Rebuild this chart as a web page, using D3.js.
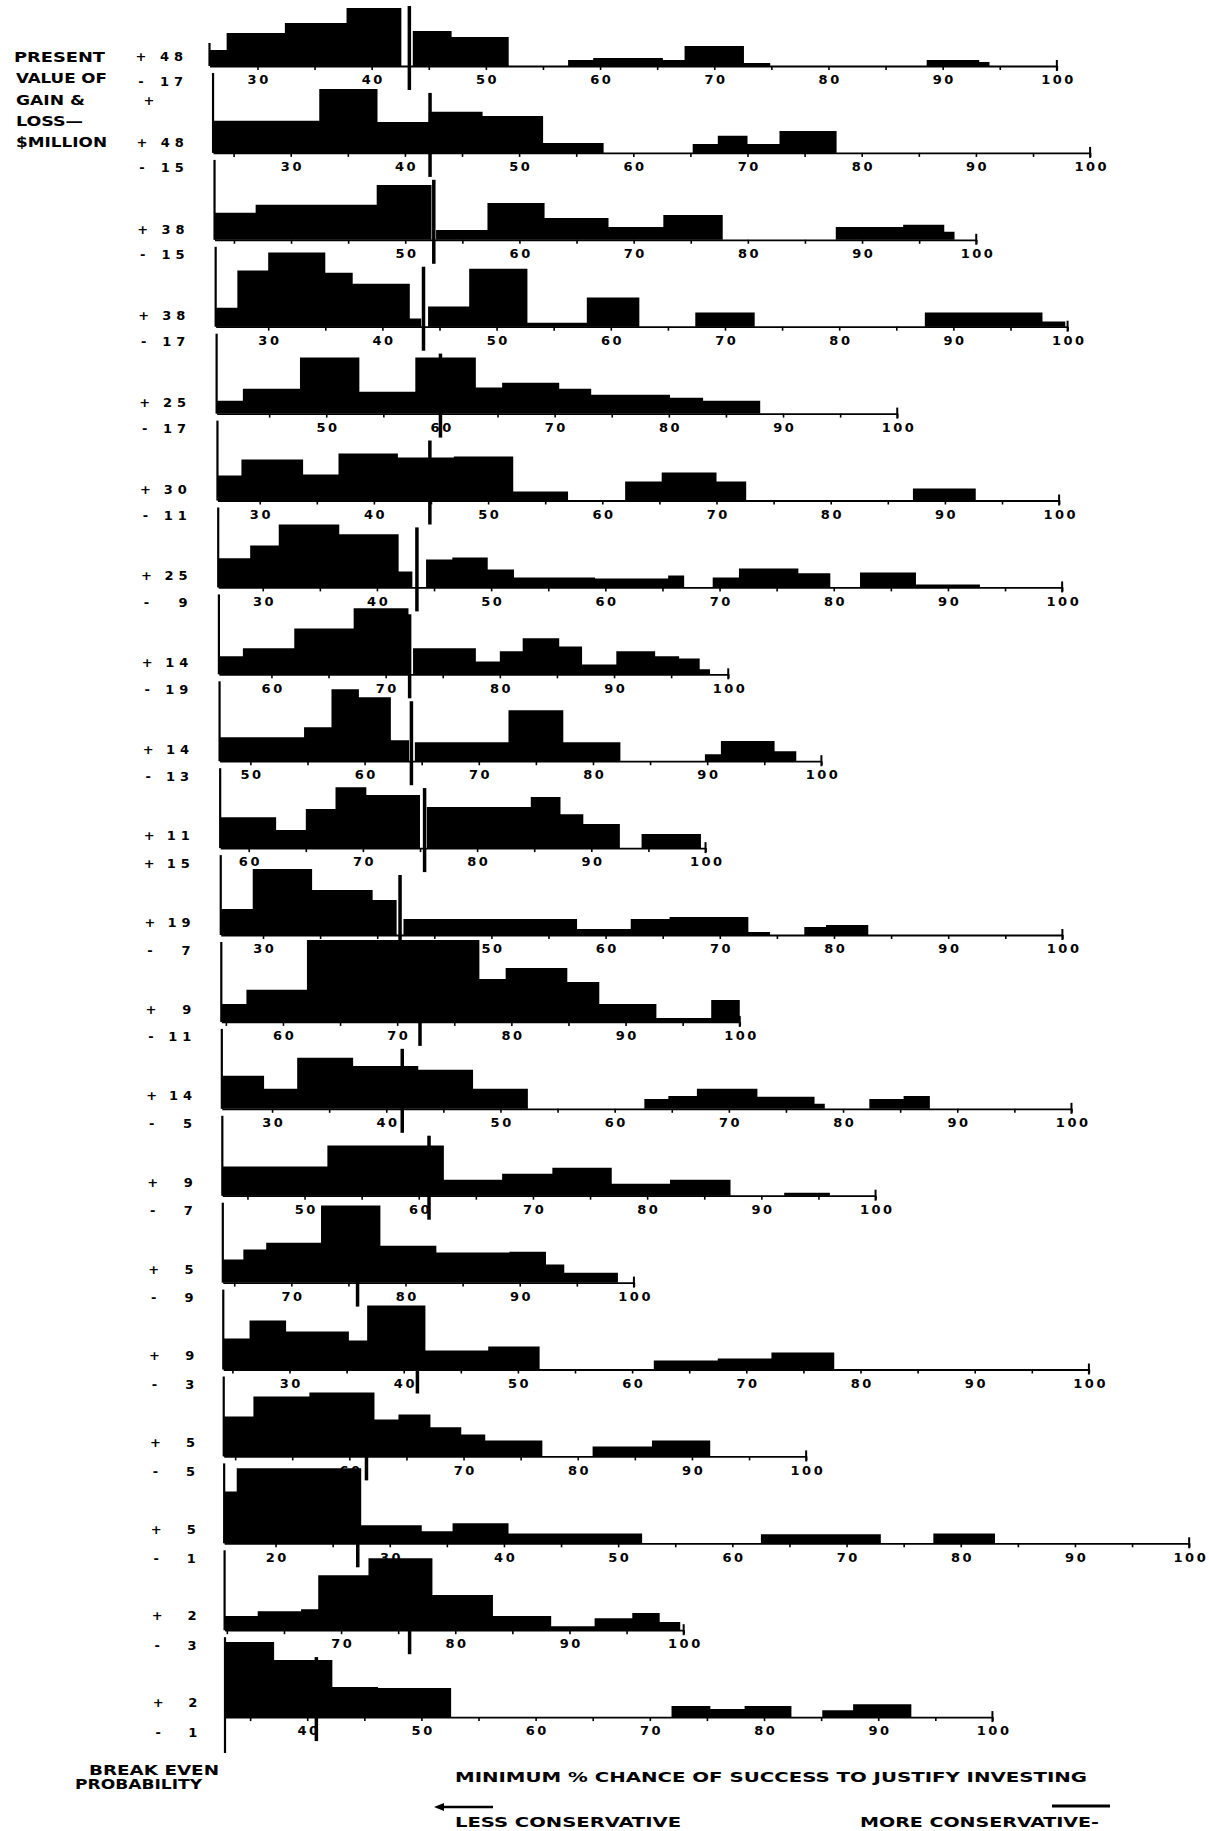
<!DOCTYPE html>
<html>
<head>
<meta charset="utf-8">
<script src="https://cdn.jsdelivr.net/npm/d3@7"></script>
<style>
  html, body { margin: 0; padding: 0; background: #fff; }
  svg { display: block; }
  .num { font-family: "DejaVu Sans", sans-serif; font-weight: bold; font-size: 13px; fill: #000; }
  .word { font-family: "Liberation Sans Narrow", "DejaVu Sans Condensed", sans-serif; font-weight: bold; font-size: 14px; fill: #000; }
</style>
</head>
<body>
<svg id="chart" width="1209" height="1831"></svg>
<script>
// Present value of gain (top label) and loss (bottom label), $ million, per project strip
const gains  = [48, 48, 38, 38, 25, 30, 25, 14, 14, 11, 19, 9, 14, 9, 5, 9, 5, 5, 2, 2];
const losses = [-17, -15, -15, -17, -17, -11, -9, -19, -13, 15, -7, -11, -5, -7, -9, -3, -5, -1, -3, -1];

// Break-even probability (%) where each strip's axis begins
const axisStarts = [25.8, 23.2, 33.3, 25.4, 40.4, 26.3, 26.1, 55.4, 47.3, 57.5,
                    26.3, 54.6, 25.6, 42.8, 64.0, 24.2, 49.0, 15.5, 59.8, 32.8];

// First labelled tick on each strip (labels then run every 10 up to 100)
const firstTickLabel = [30, 30, 50, 30, 50, 30, 30, 60, 50, 60,
                        30, 60, 30, 50, 70, 30, 60, 20, 70, 40];

// Tall marker line on each strip (% chance)
const markers = [43.3, 42.2, 52.5, 43.6, 60.0, 44.9, 43.5, 72.1, 64.1, 75.4,
                 42.0, 72.0, 41.4, 60.9, 75.8, 41.2, 61.5, 27.2, 76.0, 40.8];

// Response histograms: [from %, to %, number of responses]
const histograms = [
  [[25.8,27.3,5.3],[27.3,32.4,11],[32.4,37.8,14.3],[37.8,42.6,19.3],[43.6,47.0,11.7],[47.0,52.0,9.7],
   [57.2,59.4,2],[59.4,65.5,2.7],[65.5,67.4,2],[67.4,72.6,6.7],[72.6,74.9,1],[88.6,93.2,2],[93.2,94.1,1.3]],
  [[23.2,32.5,10.7],[32.5,37.6,21.3],[37.6,42.1,10.3],[42.1,46.8,13.7],[46.8,52.1,12.3],[52.1,57.4,3.3],
   [65.2,67.4,3],[67.4,70.0,5.7],[70.0,72.8,3],[72.8,77.8,7.3]],
  [[33.3,36.9,9],[36.9,47.5,11.7],[47.5,52.3,18.3],[52.7,57.2,3.3],[57.2,62.2,12.3],[62.2,67.8,7.3],
   [67.8,72.6,4.3],[72.6,77.8,8.3],[87.7,93.6,4.3],[93.6,97.2,5],[97.2,98.1,2.7]],
  [[25.4,27.3,6.3],[27.3,30.0,18.7],[30.0,35.0,24.7],[35.0,37.4,18],[37.4,42.4,14.3],[42.4,43.4,2.7],
   [44.0,47.6,6.7],[47.6,52.7,19.3],[52.7,57.9,1.3],[57.9,62.5,9.7],[67.4,72.6,4.7],[87.5,97.8,4.7],[97.8,99.8,1.7]],
  [[40.4,42.7,4.3],[42.7,47.7,8.3],[47.7,52.9,18.7],[52.9,57.8,7.3],[57.8,63.1,18.7],[63.1,65.4,8.7],
   [65.4,70.4,10.3],[70.4,73.2,8.3],[73.2,80.1,6.3],[80.1,83.0,5.3],[83.0,88.0,4.3]],
  [[26.3,28.4,8.3],[28.4,33.8,13.7],[33.8,36.9,8.7],[36.9,42.1,15.7],[42.1,47.0,14.3],[47.0,52.2,14.7],
   [52.2,57.0,3],[62.0,65.2,6.3],[65.2,70.0,9.3],[70.0,72.6,6.3],[87.2,92.7,4]],
  [[26.1,28.9,9.7],[28.9,31.4,14],[31.4,36.7,21],[36.7,41.9,17.7],[41.9,43.1,5.3],[44.3,46.6,9.3],
   [46.6,49.7,10],[49.7,52.0,6],[52.0,59.1,3.3],[59.1,65.5,3],[65.5,66.9,4],[69.4,71.7,3.3],
   [71.7,76.9,6.3],[76.9,79.7,4.7],[82.3,87.2,5],[87.2,92.8,1]],
  [[55.4,57.5,6],[57.5,62.0,8.7],[62.0,67.2,15.3],[67.2,72.0,22],[72.4,77.9,8.7],[77.9,80.0,4.3],
   [80.0,82.0,7.7],[82.0,85.2,12],[85.2,87.2,9.3],[87.2,90.2,3.3],[90.2,93.6,7.7],[93.6,95.7,6],
   [95.7,97.5,5.3],[97.5,98.4,1.7]],
  [[47.3,54.7,8],[54.7,57.1,11.3],[57.1,59.5,24],[59.5,62.3,21.3],[62.3,63.9,7],[64.4,72.6,6.3],
   [72.6,77.4,17],[77.4,82.4,6.3],[89.8,91.2,2.3],[91.2,95.9,6.7],[95.9,97.8,3.3]],
  [[57.5,62.4,10.3],[62.4,65.0,6],[65.0,67.6,13],[67.6,70.3,20.3],[70.3,75.0,17.7],[75.6,84.7,13.7],
   [84.7,87.3,17],[87.3,89.3,11.3],[89.3,92.5,8],[94.4,99.6,4.7]],
  [[26.3,29.1,8.7],[29.1,34.3,22],[34.3,39.6,15],[39.6,41.7,11.7],[42.3,57.5,5.3],[57.5,62.2,2],
   [62.2,65.6,5.3],[65.6,72.5,6],[72.5,74.4,1],[77.4,79.3,2.7],[79.3,83.0,3.3]],
  [[54.6,56.8,6],[56.8,62.1,10.7],[62.1,77.2,27.3],[77.2,79.5,14.3],[79.5,84.9,18],[84.9,87.7,13.3],
   [87.7,92.7,6],[92.7,97.5,1.3],[97.5,100,7.3]],
  [[25.6,29.3,11],[29.3,32.2,6.7],[32.2,37.1,17],[37.1,42.8,14.3],[42.8,47.6,13],[47.6,52.4,6.7],
   [62.6,64.7,3.3],[64.7,67.2,4.3],[67.2,72.5,6.7],[72.5,77.5,4],[77.5,78.4,1.7],[82.3,85.3,3.3],[85.3,87.6,4.3]],
  [[42.8,52.0,9.7],[52.0,62.2,16.7],[62.2,67.3,5.3],[67.3,71.7,7.3],[71.7,76.9,9.3],[76.9,82.0,4],
   [82.0,87.3,5.3],[92.0,96.0,1]],
  [[64.0,65.8,7.7],[65.8,67.8,11],[67.8,72.6,13.3],[72.6,77.8,25.7],[77.8,82.7,12.3],[82.7,89.1,10],
   [89.1,92.3,10.3],[92.3,93.9,6],[93.9,98.6,3.3]],
  [[24.2,26.5,10.3],[26.5,29.7,16.3],[29.7,35.2,12.7],[35.2,36.8,9.7],[36.8,41.9,21.3],[41.9,47.4,6.3],
   [47.4,51.9,7.7],[61.9,67.5,3],[67.5,72.2,3.7],[72.2,77.7,5.7]],
  [[49.0,51.6,13.3],[51.6,56.5,20],[56.5,62.2,21.3],[62.2,64.3,12.3],[64.3,67.1,14],[67.1,69.8,9.7],
   [69.8,71.9,7.3],[71.9,76.9,5.3],[81.3,86.5,3.3],[86.5,91.6,5.3]],
  [[15.5,16.6,17.3],[16.6,27.5,25],[27.5,32.8,6],[32.8,35.5,4],[35.5,40.4,6.7],[40.4,52.1,3.3],
   [62.5,73.0,3],[77.6,83.0,3.3]],
  [[59.8,62.7,4.7],[62.7,66.5,6.3],[66.5,68.0,7],[68.0,72.4,18.3],[72.4,78.0,24],[78.0,83.3,11.7],
   [83.3,88.4,4.7],[88.4,92.2,1.3],[92.2,95.5,4],[95.5,97.9,5.7],[97.9,99.7,2.7]],
  [[32.8,37.1,25],[37.1,42.2,19],[42.2,46.2,10],[46.2,52.6,9.7],[71.9,75.3,3.7],[75.3,78.3,2.7],
   [78.3,82.4,3.7],[85.1,87.8,2.3],[87.8,92.9,4.3]]
];

// Side and foot captions
const sideCaption = ["PRESENT", "VALUE OF", "GAIN &", "LOSS\u2014", "$MILLION"];
const axisTitle = "MINIMUM % CHANCE OF SUCCESS TO JUSTIFY INVESTING";
const breakEvenCaption = ["BREAK EVEN", "PROBABILITY"];
const directionCaptions = ["LESS CONSERVATIVE", "MORE CONSERVATIVE-"];

// ---------------------------------------------------------------------------
const svg = d3.select("#chart");
svg.append("rect").attr("width", 1209).attr("height", 1831).attr("fill", "#fff");

const UNIT = 11.42;          // px per percentage point, shared by all strips
const ROW0 = 66, ROW_GAP = 86.9;
const COUNT_PX = 3;          // px per response
const leftOf = i => 209.5 + 15.5 * Math.sqrt(i / 19);   // page is slightly skewed
const baseOf = i => ROW0 + i * ROW_GAP;
const signOf = v => (v < 0 ? "-" : "+");

// Outline of a histogram as one closed step polygon (no seams between bins)
function stepOutline(bins) {
  const pts = [];
  bins.forEach((b, k) => {
    const prev = bins[k - 1], next = bins[k + 1];
    if (!prev || Math.abs(prev[1] - b[0]) > 1e-6) pts.push([b[0], 0]);
    pts.push([b[0], b[2]], [b[1], b[2]]);
    if (!next || Math.abs(next[0] - b[1]) > 1e-6) pts.push([b[1], 0]);
  });
  return pts;
}

gains.forEach((gain, i) => {
  const left = leftOf(i), base = baseOf(i), start = axisStarts[i];
  const x = d3.scaleLinear().domain([start, 100]).range([left, left + (100 - start) * UNIT]);
  const y = d3.scaleLinear().domain([0, 1]).range([base, base - COUNT_PX]);
  const g = svg.append("g").attr("class", "strip");

  // histogram
  const line = d3.line().x(d => x(d[0])).y(d => y(d[1]));
  g.append("path").attr("d", line(stepOutline(histograms[i])) + "Z").attr("fill", "#000");

  // axis with minor ticks every 5 and labels every 10
  const minor = d3.range(Math.ceil(start / 5) * 5, 100.001, 5);
  const axisG = g.append("g").attr("transform", `translate(0,${base})`)
    .call(d3.axisBottom(x).tickValues(minor).tickSize(4).tickSizeOuter(0).tickFormat(""));
  axisG.select(".domain").attr("stroke", "#000").attr("stroke-width", 1.8);
  axisG.selectAll(".tick line").attr("stroke", "#000").attr("stroke-width", 1.6);

  const labelled = d3.range(firstTickLabel[i], 100.001, 10);
  const labG = g.append("g").attr("transform", `translate(0,${base})`)
    .call(d3.axisBottom(x).tickValues(labelled).tickSize(0).tickPadding(9).tickFormat(d3.format("d")));
  labG.select(".domain").remove();
  labG.attr("font-size", null).attr("font-family", null);
  labG.selectAll(".tick text").attr("class", "num").attr("letter-spacing", 2.5).attr("dx", 1.2);

  // closing tick at 100
  g.append("line").attr("x1", x(100)).attr("x2", x(100))
    .attr("y1", base - 6).attr("y2", base + 5).attr("stroke", "#000").attr("stroke-width", 2);

  // left edge line (start of axis)
  const topY = i === 0 ? base - 23 : baseOf(i - 1) + 7;
  const botY = i === gains.length - 1 ? 1753 : base;
  g.append("line").attr("x1", left).attr("x2", left).attr("y1", topY).attr("y2", botY)
    .attr("stroke", "#000").attr("stroke-width", 2.2);

  // marker line
  g.append("line").attr("x1", x(markers[i])).attr("x2", x(markers[i]))
    .attr("y1", base - 60).attr("y2", base + 24)
    .attr("stroke", "#000").attr("stroke-width", 3.5);

  // gain / loss labels
  const signX = 141 + 0.9 * i, numX = 183 + 0.75 * i;
  const rows = [[gain, base - 10 - 0.25 * i], [losses[i], base + 15]];
  rows.forEach(([v, yy]) => {
    g.append("text").attr("class", "num").attr("x", signX).attr("y", yy)
      .attr("text-anchor", "middle").attr("dominant-baseline", "central").text(signOf(v));
    g.append("text").attr("class", "num").attr("x", numX + 5).attr("y", yy)
      .attr("text-anchor", "end").attr("dominant-baseline", "central")
      .attr("letter-spacing", 5).text(Math.abs(v));
  });
});

// stray sign beside the top strips
svg.append("text").attr("class", "num").attr("x", 149).attr("y", 100)
  .attr("text-anchor", "middle").attr("dominant-baseline", "central").text("+");

// side caption
const sideWidths = [91, 91, 69, 67, 91];
const sideY = [57, 78, 100, 121, 142];
sideCaption.forEach((t, k) => {
  svg.append("text").attr("class", "word").attr("x", k === 0 ? 14 : 16).attr("y", sideY[k])
    .attr("dominant-baseline", "central")
    .attr("textLength", sideWidths[k]).attr("lengthAdjust", "spacingAndGlyphs").text(t);
});

// foot captions
svg.append("text").attr("class", "word").attr("x", 89).attr("y", 1770).attr("dominant-baseline", "central")
  .attr("textLength", 130).attr("lengthAdjust", "spacingAndGlyphs").text(breakEvenCaption[0]);
svg.append("text").attr("class", "word").attr("x", 75).attr("y", 1784).attr("dominant-baseline", "central")
  .attr("textLength", 127).attr("lengthAdjust", "spacingAndGlyphs").text(breakEvenCaption[1]);
svg.append("text").attr("class", "word").attr("x", 455).attr("y", 1777).attr("dominant-baseline", "central")
  .attr("textLength", 632).attr("lengthAdjust", "spacingAndGlyphs").text(axisTitle);
svg.append("text").attr("class", "word").attr("x", 455).attr("y", 1822).attr("dominant-baseline", "central")
  .attr("textLength", 226).attr("lengthAdjust", "spacingAndGlyphs").text(directionCaptions[0]);
svg.append("text").attr("class", "word").attr("x", 860).attr("y", 1822).attr("dominant-baseline", "central")
  .attr("textLength", 239).attr("lengthAdjust", "spacingAndGlyphs").text(directionCaptions[1]);

// direction rules above the foot captions
svg.append("line").attr("x1", 442).attr("x2", 493).attr("y1", 1807).attr("y2", 1807)
  .attr("stroke", "#000").attr("stroke-width", 2.5);
svg.append("path").attr("d", "M434,1807 L444,1803 L444,1811 Z").attr("fill", "#000");
svg.append("line").attr("x1", 1052).attr("x2", 1110).attr("y1", 1806).attr("y2", 1806)
  .attr("stroke", "#000").attr("stroke-width", 3);
</script>
</body>
</html>
